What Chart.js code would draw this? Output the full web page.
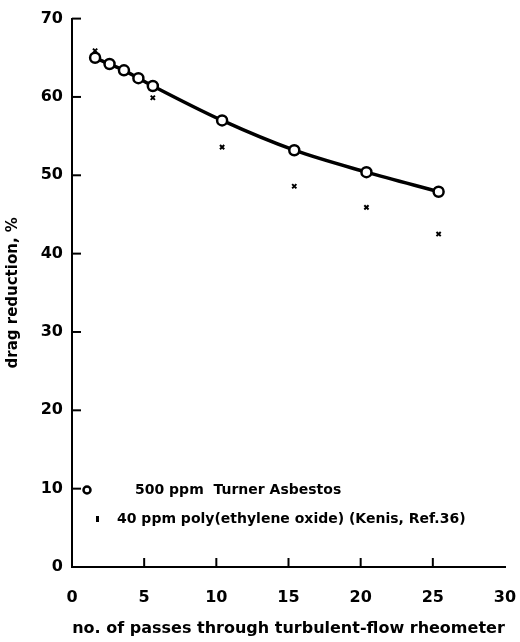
<!DOCTYPE html>
<html>
<head>
<meta charset="utf-8">
<script src="https://cdn.jsdelivr.net/npm/chart.js@4"></script>
<style>
  html, body { margin: 0; background: #fff; }
  #wrap { width: 520px; height: 642px; }
</style>
</head>
<body>
<div id="wrap"><canvas id="chart"></canvas></div>
<script>
// values
const passes = [1.6, 2.6, 3.6, 4.6, 5.6, 10.4, 15.4, 20.4, 25.4];
const asbestos = [65.0, 64.2, 63.4, 62.4, 61.4, 57.0, 53.2, 50.4, 47.9];
const peoPasses = [1.6, 5.6, 10.4, 15.4, 20.4, 25.4];
const peo = [65.9, 59.9, 53.6, 48.6, 45.9, 42.5];
const xTickValues = [0, 5, 10, 15, 20, 25, 30];
const yTickValues = [0, 10, 20, 30, 40, 50, 60, 70];
const legendLabels = ["500 ppm  Turner Asbestos", "40 ppm poly(ethylene oxide) (Kenis, Ref.36)"];

const FONT = "'DejaVu Sans', 'Liberation Sans', sans-serif";

// inward tick marks, placed with the scales
const innerTicks = {
  id: "innerTicks",
  afterDraw(chart) {
    const ctx = chart.ctx, x = chart.scales.x, y = chart.scales.y;
    const a = chart.chartArea;
    ctx.save();
    ctx.strokeStyle = "#000";
    ctx.lineWidth = 2;
    xTickValues.forEach((v) => {
      if (v === 0 || v === 30) return;
      const px = x.getPixelForValue(v);
      ctx.beginPath();
      ctx.moveTo(px, a.bottom);
      ctx.lineTo(px, a.bottom - 9);
      ctx.stroke();
    });
    yTickValues.forEach((v) => {
      if (v === 0) return;
      const py = y.getPixelForValue(v);
      ctx.beginPath();
      ctx.moveTo(a.left, py);
      ctx.lineTo(a.left + 9, py);
      ctx.stroke();
    });
    ctx.restore();
  }
};

// legend inside the plot, bottom left
const insideLegend = {
  id: "insideLegend",
  afterDraw(chart) {
    const ctx = chart.ctx, a = chart.chartArea;
    ctx.save();
    ctx.fillStyle = "#000";
    ctx.strokeStyle = "#000";
    ctx.textBaseline = "middle";
    ctx.font = "bold 14px " + FONT;
    // circle
    ctx.lineWidth = 2.5;
    ctx.beginPath();
    ctx.arc(a.left + 15, a.bottom - 77, 3.5, 0, Math.PI * 2);
    ctx.stroke();
    ctx.fillText(legendLabels[0], a.left + 63, a.bottom - 77);
    // small mark
    ctx.fillRect(a.left + 24, a.bottom - 51, 3, 6);
    ctx.fillText(legendLabels[1], a.left + 45, a.bottom - 48);
    ctx.restore();
  }
};

const ctx = document.getElementById("chart").getContext("2d");
const myChart = new Chart(ctx, {
  type: "scatter",
  data: {
    datasets: [
      {
        label: legendLabels[0],
        data: passes.map((p, i) => ({ x: p, y: asbestos[i] })),
        showLine: true,
        borderColor: "#000",
        borderWidth: 3.5,
        cubicInterpolationMode: "monotone",
        pointRadius: 5,
        pointBorderWidth: 2.5,
        pointBackgroundColor: "#fff",
        pointBorderColor: "#000",
      },
      {
        label: legendLabels[1],
        data: peoPasses.map((p, i) => ({ x: p, y: peo[i] })),
        showLine: false,
        pointStyle: "crossRot",
        pointRadius: 3,
        pointBorderWidth: 2,
        pointBorderColor: "#000",
        pointBackgroundColor: "#000",
      },
    ],
  },
  options: {
    responsive: true,
    maintainAspectRatio: false,
    animation: false,
    layout: { padding: { top: 5, right: 0, left: 0, bottom: 0 } },
    plugins: {
      legend: { display: false },
      tooltip: { enabled: false },
    },
    scales: {
      x: {
        type: "linear",
        min: 0,
        max: 30,
        afterBuildTicks: (s) => { s.ticks = xTickValues.map((v) => ({ value: v })); },
        afterFit: (s) => { s.height = 75; s.paddingRight = 15; },
        grid: { display: false, drawTicks: false },
        border: { display: true, color: "#000", width: 2 },
        ticks: { color: "#000", padding: 21, font: { family: FONT, size: 16, weight: "bold" } },
        title: {
          display: true,
          text: "no. of passes through turbulent-flow rheometer",
          color: "#000",
          padding: { top: 5 },
          font: { family: FONT, size: 16, weight: "bold" },
        },
      },
      y: {
        type: "linear",
        min: 0,
        max: 70,
        afterBuildTicks: (s) => { s.ticks = yTickValues.map((v) => ({ value: v })); },
        afterFit: (s) => { s.width = 72; },
        grid: { display: false, drawTicks: false },
        border: { display: true, color: "#000", width: 2 },
        ticks: { color: "#000", padding: 9, font: { family: FONT, size: 16, weight: "bold" } },
        title: {
          display: true,
          text: "drag reduction, %",
          color: "#000",
          padding: { bottom: 2 },
          font: { family: FONT, size: 15, weight: "bold" },
        },
      },
    },
  },
  plugins: [innerTicks, insideLegend],
});
</script>
</body>
</html>
